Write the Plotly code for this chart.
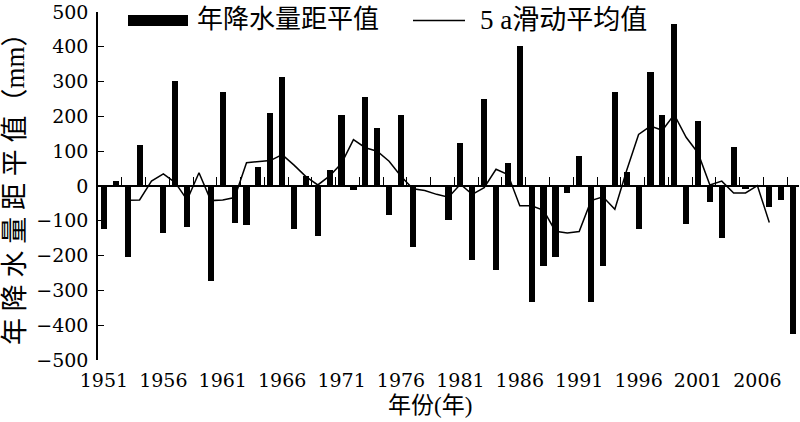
import plotly.graph_objects as go

# ---- data ----
years = list(range(1951, 2010))
anomaly = [-124, 15, -203, 119, 0, -136, 302, -117, 0, -273,
           271, -105, -111, 55, 211, 314, -124, 29, -144, 46,
           204, -12, 256, 166, -84, 204, -176, 0, 0, -97,
           124, -214, 250, -241, 65, 402, -333, -229, -203, -19,
           86, -333, -229, 271, 40, -124, 329, 205, 466, -110,
           186, -46, -150, 112, -10, 0, -59, -40, -424]

ma_years = list(range(1953, 2008))
ma_values = [-41, -40, 14, 35, 10, -40, 38, -42, -40, -33,
             67, 71, 73, 90, 60, 27, 3, 29, 65, 133,
             110, 100, 71, 28, -8, -13, -24, -32, 5, -24,
             -5, 48, 33, -57, -57, -70, -130, -135, -131, -42,
             -31, -67, 45, 148, 172, 160, 205, 140, 95, 3,
             14, -20, -20, 1, -105]

x_tick_vals = [1951, 1956, 1961, 1966, 1971, 1976, 1981, 1986, 1991, 1996, 2001, 2006]
x_tick_text = ["1951", "1956", "1961", "1966", "1971", "1976", "1981", "1986",
               "1991", "1996", "2001", "2006"]
y_tick_vals = [500, 400, 300, 200, 100, 0, -100, -200, -300, -400, -500]

bar_name = "年降水量距平值"
line_name = "5 a滑动平均值"
x_title = "年份(年)"
y_title = "年 降 水 量 距 平 值（mm）"

# ---- layout geometry ----
W, H = 800, 422
ML, MR, MT, MB = 98, 1, 10, 62
PW = W - ML - MR
PH = H - MT - MB


def px(x):
    return (x - ML) / PW


def py(y):
    return (H - MB - y) / PH


num_font = "DejaVu Serif, Liberation Serif, serif"
cjk_font = "Liberation Serif, Noto Sans CJK SC, serif"

fig = go.Figure()
fig.add_trace(go.Bar(x=years, y=anomaly, name=bar_name, marker_color="black",
                     marker_line_width=0, width=0.52, xaxis="x", yaxis="y",
                     showlegend=False))
fig.add_trace(go.Scatter(x=ma_years, y=ma_values, name=line_name, mode="lines",
                         line=dict(color="black", width=1.5), xaxis="x2", yaxis="y",
                         showlegend=False))

xr = [years[0] - 0.5, years[-1] + 0.5]
boundary_ticks = [y + 0.5 for y in years[1::2]]

fig.update_layout(
    width=W, height=H,
    margin=dict(l=ML, r=MR, t=MT, b=MB),
    paper_bgcolor="white", plot_bgcolor="white",
    bargap=0,
    xaxis=dict(range=xr, showline=False, showgrid=False, zeroline=False,
               ticks="", tickvals=x_tick_vals, ticktext=x_tick_text,
               tickfont=dict(family=num_font, size=19, color="black"),
               ticklabelstandoff=7, ticklabeloverflow="allow"),
    xaxis2=dict(range=xr, overlaying="x", anchor="free", position=0.5, side="bottom",
                showline=True, linecolor="black", linewidth=1.5,
                showgrid=False, zeroline=False,
                ticks="inside", ticklen=8, tickwidth=1, tickcolor="black",
                tickvals=boundary_ticks, showticklabels=False),
    yaxis=dict(range=[-500, 500], tickvals=y_tick_vals,
               showline=True, linecolor="black", linewidth=1.5,
               showgrid=False, zeroline=False,
               ticks="inside", ticklen=6, tickwidth=1, tickcolor="black",
               tickfont=dict(family=num_font, size=19, color="black"),
               ticklabelstandoff=4, ticklabeloverflow="allow"),
    shapes=[
        dict(type="rect", xref="paper", yref="paper",
             x0=px(128), x1=px(188), y0=py(24), y1=py(13), fillcolor="black",
             line=dict(width=0)),
        dict(type="line", xref="paper", yref="paper",
             x0=px(413), x1=px(465), y0=py(18.5), y1=py(18.5),
             line=dict(color="black", width=1.5)),
    ],
    annotations=[
        dict(text=bar_name, xref="paper", yref="paper", x=px(195), y=py(18),
             xanchor="left", yanchor="middle", showarrow=False,
             font=dict(family=cjk_font, size=26, color="black")),
        dict(text=line_name, xref="paper", yref="paper", x=px(478), y=py(18),
             xanchor="left", yanchor="middle", showarrow=False,
             font=dict(family=cjk_font, size=27, color="black")),
        dict(text=y_title, xref="paper", yref="paper", x=px(15), y=py(181),
             xanchor="center", yanchor="middle", showarrow=False, textangle=-90,
             font=dict(family=cjk_font, size=27, color="black")),
        dict(text=x_title, xref="paper", yref="paper", x=px(430), y=py(406),
             xanchor="center", yanchor="middle", showarrow=False,
             font=dict(family=cjk_font, size=23, color="black")),
    ],
)

fig.write_html("out.html", config={"displayModeBar": False},
               post_script="document.body.style.margin='0';")
